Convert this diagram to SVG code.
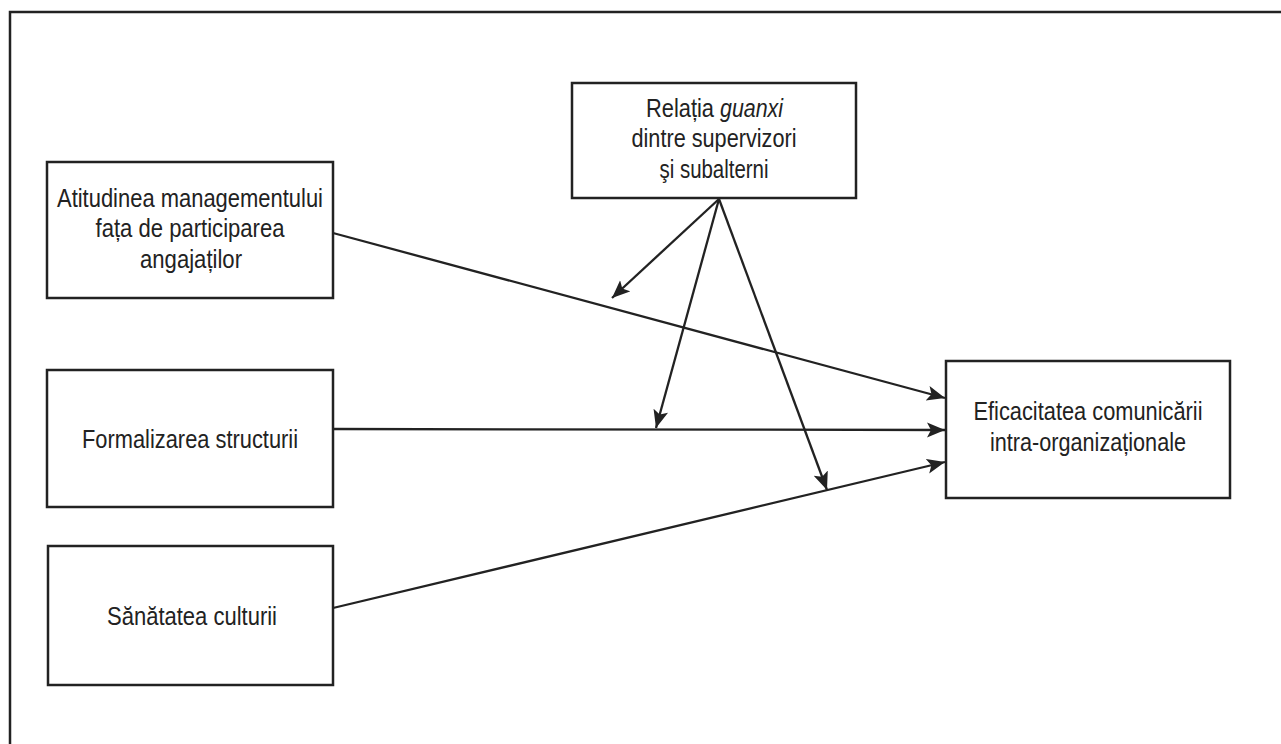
<svg xmlns="http://www.w3.org/2000/svg" width="1281" height="744" viewBox="0 0 1281 744">
<defs>
<marker id="ah" markerUnits="userSpaceOnUse" markerWidth="20" markerHeight="16" refX="18" refY="7.5" orient="auto">
<path d="M0,0 L18,7.5 L0,15 L4,7.5 Z" fill="#222"/>
</marker>
<style>
.box{fill:#fff;stroke:#222;stroke-width:2.5}
.t{font-family:"Liberation Sans",Arial,sans-serif;font-size:25px;fill:#222;text-anchor:middle}
.s{text-anchor:start}
.i{font-style:italic}
.c{stroke:#222;stroke-width:2.3;fill:none;marker-end:url(#ah)}
</style>
</defs>
<rect x="0" y="0" width="1281" height="744" fill="#fff"/>
<rect x="10" y="12" width="1290" height="760" fill="none" stroke="#222" stroke-width="2.5"/>
<g id="n-atitudinea">
<rect class="box" x="47" y="162" width="286" height="136"/>
<text class="t" x="190" y="207" textLength="266" lengthAdjust="spacingAndGlyphs">Atitudinea managementului</text>
<text class="t" x="190" y="237" textLength="189" lengthAdjust="spacingAndGlyphs">fața de participarea</text>
<text class="t" x="191" y="268" textLength="102" lengthAdjust="spacingAndGlyphs">angajaților</text>
</g>
<g id="n-formalizarea">
<rect class="box" x="47" y="370" width="286" height="137"/>
<text class="t" x="190" y="448" textLength="216" lengthAdjust="spacingAndGlyphs">Formalizarea structurii</text>
</g>
<g id="n-sanatatea">
<rect class="box" x="48" y="546" width="285" height="139"/>
<text class="t" x="192" y="625" textLength="170" lengthAdjust="spacingAndGlyphs">Sănătatea culturii</text>
</g>
<g id="n-relatia">
<rect class="box" x="572" y="83" width="284" height="115"/>
<text class="t s" x="646" y="117" textLength="68" lengthAdjust="spacingAndGlyphs">Relația</text>
<text class="t s i" x="720" y="117" textLength="63" lengthAdjust="spacingAndGlyphs">guanxi</text>
<text class="t" x="714" y="147" textLength="165" lengthAdjust="spacingAndGlyphs">dintre supervizori</text>
<text class="t" x="714" y="178" textLength="109" lengthAdjust="spacingAndGlyphs">şi subalterni</text>
</g>
<g id="n-eficacitatea">
<rect class="box" x="946" y="361" width="284" height="137"/>
<text class="t" x="1088" y="420" textLength="229" lengthAdjust="spacingAndGlyphs">Eficacitatea comunicării</text>
<text class="t" x="1088" y="451" textLength="196" lengthAdjust="spacingAndGlyphs">intra-organizaționale</text>
</g>
<g id="connectors">
<line class="c" x1="333" y1="233" x2="945" y2="398"/>
<line class="c" x1="333" y1="429" x2="945" y2="430"/>
<line class="c" x1="333" y1="608" x2="945" y2="462"/>
<line class="c" x1="719" y1="199" x2="612" y2="298"/>
<line class="c" x1="719" y1="199" x2="656" y2="428"/>
<line class="c" x1="719" y1="199" x2="827" y2="490"/>
</g>
</svg>
